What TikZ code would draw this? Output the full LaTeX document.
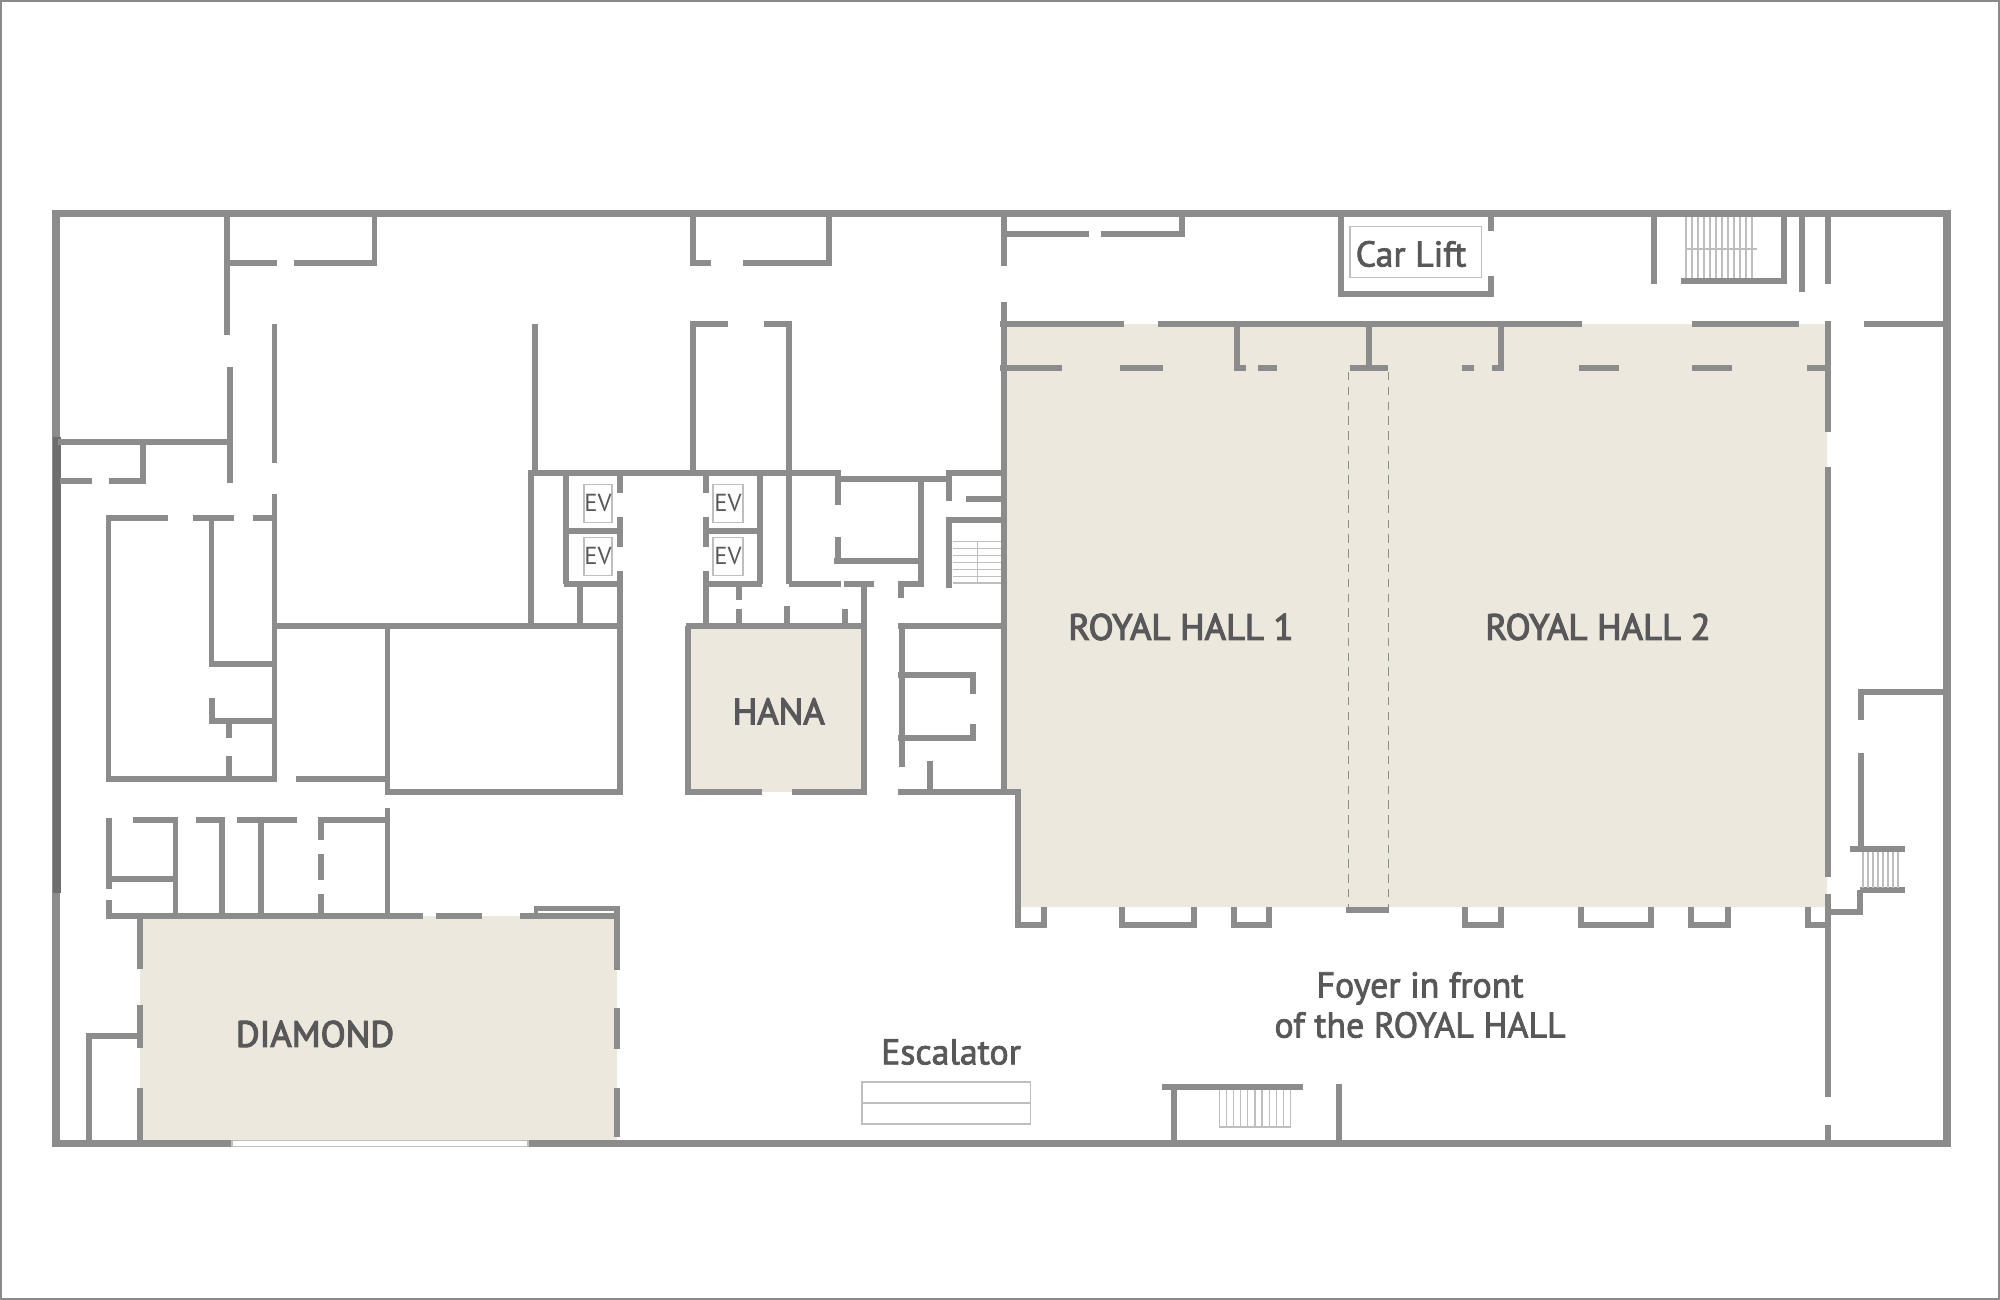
\documentclass[tikz,border=0pt]{standalone}
\usepackage{fontspec}
\setmainfont{PT Sans}
\newfontfamily\roomfont{PT Sans}[RawFeature={embolden=3.2}]
\newfontfamily\mediumfont{PT Sans}[RawFeature={embolden=2.2}]
\definecolor{wallgrey}{RGB}{140, 140, 140}
\definecolor{walldark}{RGB}{110, 110, 110}
\definecolor{roombeige}{RGB}{237, 232, 221}
\definecolor{labelgrey}{RGB}{88, 88, 90}
\definecolor{thingrey}{RGB}{190, 190, 190}
\tikzset{
  wall/.style={line width=1.7pt, draw=wallgrey},
  outerwall/.style={line width=2.1pt, draw=wallgrey},
  thinline/.style={line width=0.35pt, draw=thingrey},
  foldline/.style={line width=0.4pt, draw=wallgrey, dash pattern=on 2.4pt off 1.8pt},
  evbox/.style={thinline, draw, minimum height=0.387cm, inner sep=0pt},
  roomlabel/.style={text=labelgrey, font=\roomfont\fontsize{10.4}{12}\selectfont, inner sep=0pt},
  textlabel/.style={text=labelgrey, font=\mediumfont\fontsize{10.2}{11.4}\selectfont, inner sep=0pt},
  smalllabel/.style={text=labelgrey, font=\fontsize{7}{8}\selectfont, inner sep=0pt}
}
\begin{document}
\begin{tikzpicture}[x=0.01cm, y=-0.01cm]
  \useasboundingbox (0,0) rectangle (2000,1300);
  \draw[line width=0.5pt, draw=walldark!80] (1,1) rectangle (1999,1299);

  \fill[roombeige] (1006,324) -- (1827,324) -- (1827,907) -- (1018,907) -- (1018,792) -- (1006,792) -- cycle;
  \fill[roombeige] (688,626) rectangle (864,792);
  \fill[roombeige] (140,916) rectangle (617,1140);

  \draw[outerwall] (56,213.5) rectangle (1947,1143.5);
  \draw[line width=2pt, draw=walldark] (57,437) -- (57,893);
  \draw[line width=1.6pt, draw=white] (232,1143.5) -- (528,1143.5);
  \draw[thinline] (232,1140.5) rectangle (528,1146.5);

  \draw[wall] (227,213) -- (227,335);
  \draw[wall] (229,263) -- (277,263);
  \draw[wall] (294,263) -- (374.5,263) -- (374.5,213);
  \draw[wall] (230,367) -- (230,483);
  \draw[wall] (58,441.7) -- (230,441.7);
  \draw[wall] (143,441.7) -- (143,480.7) -- (109,480.7);
  \draw[wall] (60,480.7) -- (92,480.7);
  \draw[wall] (274.5,324) -- (274.5,463);
  \draw[wall] (274.5,494) -- (274.5,778.6) -- (108.5,778.6) -- (108.5,518);
  \draw[wall] (105.5,518) -- (168,518);
  \draw[wall] (193,518) -- (234,518);
  \draw[wall] (253,518) -- (274,518);
  \draw[wall] (211.5,518) -- (211.5,663.6) -- (275,663.6);
  \draw[wall] (212,698) -- (212,721.4) -- (275,721.4);
  \draw[wall] (228.6,721) -- (228.6,737.5);
  \draw[wall] (228.6,756) -- (228.6,778);
  \draw[wall] (295.5,778.6) -- (387.5,778.6);
  \draw[wall] (275,625.7) -- (619,625.7);
  \draw[wall] (387.5,625.7) -- (387.5,792) -- (620,792) -- (620,625.7);

  \draw[wall] (109,818) -- (109,888.6);
  \draw[wall] (109,900) -- (109,916) -- (423,916);
  \draw[wall] (132.6,820) -- (175.5,820) -- (175.5,916);
  \draw[wall] (109,878.6) -- (175.5,878.6);
  \draw[wall] (196,820) -- (222,820) -- (222,916);
  \draw[wall] (236.6,820) -- (297,820);
  \draw[wall] (261,820) -- (261,916);
  \draw[wall] (321.4,840) -- (321.4,820) -- (387.5,820);
  \draw[wall] (321.4,854) -- (321.4,880);
  \draw[wall] (321.4,893.6) -- (321.4,916);
  \draw[wall] (387.5,808) -- (387.5,916);
  \draw[wall] (435.7,916) -- (482,916);
  \draw[wall] (520,916) -- (617,916);
  \draw[line width=1.3pt, draw=wallgrey] (536,914) -- (536,908.5) -- (617,908.5);
  \draw[wall] (617,906) -- (617,969.6);
  \draw[wall] (617,1008) -- (617,1049);
  \draw[wall] (617,1087.5) -- (617,1137);
  \draw[wall] (139.7,916) -- (139.7,969);
  \draw[wall] (139.7,1004.6) -- (139.7,1048);
  \draw[wall] (139.7,1087.5) -- (139.7,1143);
  \draw[wall] (139.7,1036) -- (89,1036) -- (89,1143);

  \draw[wall] (693,213) -- (693,262.7) -- (711,262.7);
  \draw[wall] (743,262.7) -- (828.6,262.7) -- (828.6,213);
  \draw[wall] (1003.6,213) -- (1003.6,266);
  \draw[wall] (1003.6,301.7) -- (1003.6,792);
  \draw[wall] (1006,234) -- (1089,234);
  \draw[wall] (1100.8,234) -- (1182,234) -- (1182,213);

  \draw[wall] (534.6,324) -- (534.6,473);
  \draw[wall] (528,473) -- (837.5,473) -- (837.5,505);
  \draw[wall] (531,473) -- (531,626);
  \draw[wall] (566,473) -- (566,584);
  \draw[wall] (564,530.7) -- (621,530.7);
  \draw[wall] (564,584) -- (618,584);
  \draw[wall] (580,584) -- (580,626);
  \draw[wall] (620,473) -- (620,493);
  \draw[wall] (620,517) -- (620,547);
  \draw[wall] (620,570.7) -- (620,628);
  \draw[wall] (706.4,473) -- (706.4,493);
  \draw[wall] (706.4,517) -- (706.4,547);
  \draw[wall] (706.4,570.7) -- (706.4,628);
  \draw[wall] (703.6,530.7) -- (759,530.7);
  \draw[wall] (707,584) -- (762,584);
  \draw[wall] (760,473) -- (760,584);
  \draw[wall] (738.6,584) -- (738.6,600);
  \draw[wall] (738.6,609) -- (738.6,628);
  \draw[wall] (786.8,606) -- (786.8,628);
  \draw[wall] (845,609) -- (845,628);
  \draw[wall] (864,584) -- (864,792);
  \draw[wall] (789,584) -- (841,584);
  \draw[wall] (843.6,584) -- (874,584);
  \draw[wall] (686.4,625.7) -- (864,625.7);
  \draw[wall] (898,625.7) -- (1003.6,625.7);
  \draw[wall] (693,473) -- (693,324) -- (728,324);
  \draw[wall] (763.6,324) -- (789,324) -- (789,584);
  \draw[wall] (837.5,536.7) -- (837.5,561);
  \draw[wall] (837.5,479) -- (948,479);
  \draw[wall] (834,561) -- (920.7,561);
  \draw[wall] (920.7,479) -- (920.7,584) -- (900.7,584) -- (900.7,598);
  \draw[wall] (949,500.7) -- (949,473) -- (1003.6,473);
  \draw[wall] (966,499) -- (1001,499);
  \draw[wall] (1002,520) -- (949,520) -- (949,588);
  \foreach \y in {541.7,548.5,555.5,562.5,569.5,576.5,583} {
    \draw[thinline] (953,\y) -- (1001,\y);
  }
  \draw[thinline] (977.5,541.7) -- (977.5,583);

  \draw[wall] (686,792) -- (761.7,792);
  \draw[wall] (791.7,792) -- (866.7,792);
  \draw[wall] (688,625.7) -- (688,794.7);
  \draw[wall] (901.7,625.7) -- (901.7,767);
  \draw[wall] (898,675) -- (972.7,675) -- (972.7,693.6);
  \draw[wall] (898,738) -- (972.7,738) -- (972.7,724);
  \draw[wall] (930,760.7) -- (930,792);
  \draw[wall] (898,792) -- (1017.7,792) -- (1017.7,925) -- (1044,925) -- (1044,907);
  \draw[wall] (1122,907) -- (1122,925) -- (1194.4,925) -- (1194.4,907);
  \draw[wall] (1234,907) -- (1234,925) -- (1269,925) -- (1269,907);
  \draw[wall] (1465,907) -- (1465,925) -- (1501,925) -- (1501,907);
  \draw[wall] (1581,907) -- (1581,925) -- (1651,925) -- (1651,907);
  \draw[wall] (1691,907) -- (1691,925) -- (1728,925) -- (1728,907);
  \draw[wall] (1807.5,907) -- (1807.5,925) -- (1827.5,925);
  \draw[wall] (1346,910) -- (1388.5,910);

  \draw[wall] (1000,324) -- (1124,324);
  \draw[wall] (1158,324) -- (1582,324);
  \draw[wall] (1692,324) -- (1798.5,324);
  \draw[wall] (1864,324) -- (1944,324);
  \draw[wall] (1237,324) -- (1237,368.3) -- (1245.5,368.3);
  \draw[wall] (1368.6,324) -- (1368.6,368);
  \draw[wall] (1492,368.3) -- (1500.6,368.3) -- (1500.6,324);
  \draw[wall] (1000,368.3) -- (1062,368.3);
  \draw[wall] (1120,368.3) -- (1162.6,368.3);
  \draw[wall] (1258,368.3) -- (1277.4,368.3);
  \draw[wall] (1349.5,368.3) -- (1387.8,368.3);
  \draw[wall] (1462,368.3) -- (1474,368.3);
  \draw[wall] (1579,368.3) -- (1618.6,368.3);
  \draw[wall] (1692,368.3) -- (1732,368.3);
  \draw[wall] (1806.8,368.3) -- (1827.8,368.3);
  \draw[wall] (1827.8,321) -- (1827.8,431.5);
  \draw[wall] (1827.5,467) -- (1827.5,877);
  \draw[wall] (1827.5,894) -- (1827.5,1097);
  \draw[wall] (1827.5,1125) -- (1827.5,1144);
  \draw[wall] (1860,890) -- (1860,911.7) -- (1827.5,911.7);
  \draw[wall] (1850,849.3) -- (1904.5,849.3);
  \draw[wall] (1860,890) -- (1904.5,890);
  \draw[wall] (1860.6,720) -- (1860.6,691.7) -- (1947,691.7);
  \draw[wall] (1860.6,753) -- (1860.6,847);
  \foreach \x in {1863,1868,...,1902} {
    \draw[thinline] (\x,852) -- (\x,888);
  }

  \draw[wall] (1341,213) -- (1341,294.3) -- (1491,294.3) -- (1491,276);
  \draw[wall] (1491,213) -- (1491,230.7);
  \draw[thinline] (1350,226.7) rectangle (1481.5,277.3);
  \draw[wall] (1653.7,213) -- (1653.7,284);
  \draw[wall] (1680.5,281) -- (1784,281) -- (1784,213);
  \draw[wall] (1802,213) -- (1802,291.7);
  \draw[wall] (1827.8,213) -- (1827.8,284);
  \foreach \x in {1686,1692,...,1757} {
    \draw[thinline] (\x,217) -- (\x,278);
  }
  \draw[thinline] (1685.6,249) -- (1757,249);

  \draw[wall] (1162,1087) -- (1303.4,1087);
  \draw[wall] (1174.4,1087) -- (1174.4,1144);
  \draw[wall] (1338.6,1084) -- (1338.6,1144);
  \foreach \x in {1219.4,1226.5,...,1292} {
    \draw[thinline] (\x,1090) -- (\x,1127);
  }
  \draw[thinline] (1219.4,1127) -- (1291,1127);

  \draw[foldline] (1348.4,372) -- (1348.4,907);
  \draw[foldline] (1388.5,372) -- (1388.5,907);

  \draw[thinline] (862,1082) rectangle (1030.7,1124);
  \draw[thinline] (862,1103) -- (1030.7,1103);

  \node[evbox, minimum width=0.28cm] (ev1) at (598,503.5) {};
  \node[evbox, minimum width=0.28cm] (ev2) at (598,556.5) {};
  \node[evbox, minimum width=0.30cm] (ev3) at (728,503.5) {};
  \node[evbox, minimum width=0.30cm] (ev4) at (728,556.5) {};
  \node[smalllabel] at (ev1) {EV};
  \node[smalllabel] at (ev2) {EV};
  \node[smalllabel] at (ev3) {EV};
  \node[smalllabel] at (ev4) {EV};

  \node[roomlabel] (hall1) at (1181,627) {ROYAL HALL 1};
  \node[roomlabel] (hall2) at (1598,627) {ROYAL HALL 2};
  \node[roomlabel] (hana) at (778.7,711.4) {HANA};
  \node[roomlabel] (diamond) at (315,1034) {DIAMOND};
  \node[textlabel] (carlift) at (1411,254) {Car Lift};
  \node[textlabel] (escalator) at (951,1052) {Escalator};
  \node[textlabel, align=center] (foyer) at (1420,1005) {Foyer in front\\of the ROYAL HALL};
\end{tikzpicture}
\end{document}
